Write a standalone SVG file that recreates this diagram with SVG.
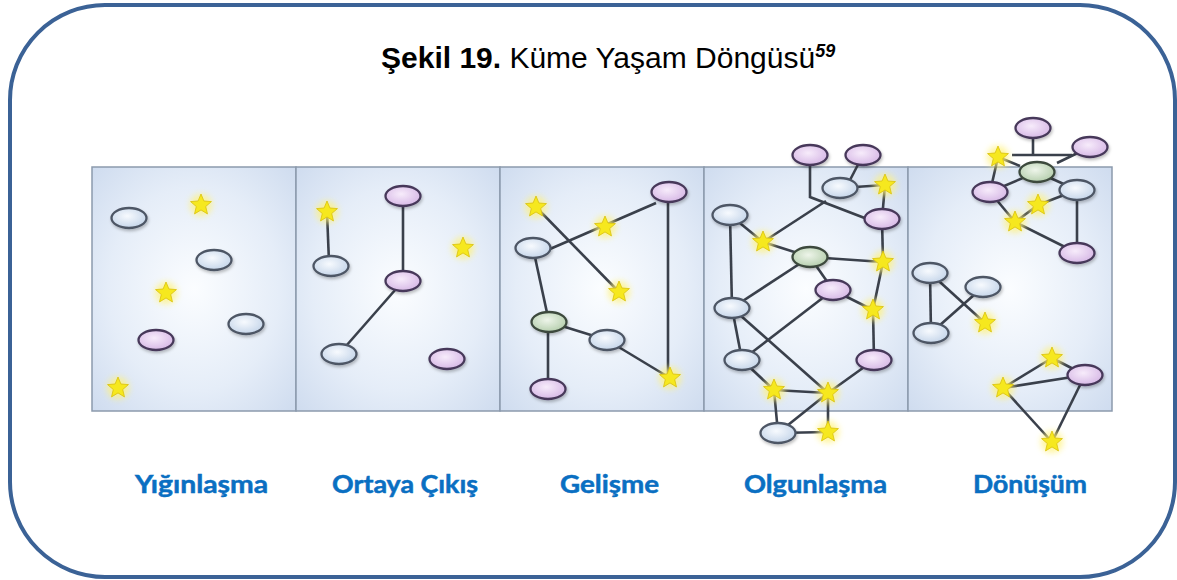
<svg xmlns="http://www.w3.org/2000/svg" xmlns:xlink="http://www.w3.org/1999/xlink" width="1177" height="580" viewBox="0 0 1177 580">
<defs>
<radialGradient id="gPanel" cx="50%" cy="50%" r="70%">
<stop offset="0" stop-color="#fbfdff"/>
<stop offset="0.6" stop-color="#e5edf8"/>
<stop offset="1" stop-color="#cfdcef"/>
</radialGradient>
<radialGradient id="gBlue" cx="45%" cy="40%" r="60%">
<stop offset="0" stop-color="#f7fafe"/>
<stop offset="1" stop-color="#c6d6ea"/>
</radialGradient>
<radialGradient id="gPurple" cx="45%" cy="40%" r="60%">
<stop offset="0" stop-color="#f7ecfb"/>
<stop offset="1" stop-color="#d7b9e6"/>
</radialGradient>
<radialGradient id="gGreen" cx="45%" cy="40%" r="60%">
<stop offset="0" stop-color="#eef5ea"/>
<stop offset="1" stop-color="#b6cfae"/>
</radialGradient>
<filter id="glow" x="-1" y="-1" width="3" height="3">
<feGaussianBlur stdDeviation="3"/>
</filter>
<filter id="shadow" x="-0.3" y="-0.3" width="1.6" height="1.8">
<feDropShadow dx="1" dy="2" stdDeviation="1.5" flood-color="#000" flood-opacity="0.25"/>
</filter>
<g id="star">
<circle r="11" fill="#fff27a" opacity="0.75" filter="url(#glow)"/>
<polygon points="0,-11 2.9,-4 10.46,-3.4 4.7,1.53 6.47,8.9 0,4.95 -6.47,8.9 -4.7,1.53 -10.46,-3.4 -2.9,-4" fill="#f6e81e" stroke="#d9c00c" stroke-width="0.8"/>
</g>
</defs>
<style>
.frame{fill:#fff;stroke:#3b6296;stroke-width:4}
.panel{fill:url(#gPanel);stroke:#8c9aad;stroke-width:1.5}
.b{fill:url(#gBlue);stroke:#4d5665;stroke-width:2.3;filter:url(#shadow)}
.p{fill:url(#gPurple);stroke:#47395a;stroke-width:2.3;filter:url(#shadow)}
.g{fill:url(#gGreen);stroke:#3c4a3d;stroke-width:2.3;filter:url(#shadow)}
.c line,.c polyline{stroke:#3a404b;stroke-width:2.6;fill:none}
.title{font-family:"Liberation Sans",Arial,sans-serif;font-size:30px;fill:#000}
.lbl{font-family:Lato,"Open Sans",sans-serif;font-weight:bold;font-size:24px;fill:#0a6fc2;stroke:#0a6fc2;stroke-width:0.5}
</style>
<rect class="frame" x="10" y="5" width="1165" height="572" rx="95" ry="95"/>
<text class="title" x="381" y="68"><tspan font-weight="bold">Şekil 19.</tspan> Küme Yaşam Döngüsü<tspan font-weight="bold" font-style="italic" font-size="18" dy="-11">59</tspan></text>
<g id="panels">
<rect class="panel" x="92" y="167" width="204" height="244"/>
<rect class="panel" x="296" y="167" width="204" height="244"/>
<rect class="panel" x="500" y="167" width="204" height="244"/>
<rect class="panel" x="704" y="167" width="204" height="244"/>
<rect class="panel" x="908" y="167" width="204" height="244"/>
</g>
<g id="connectors" class="c">
<line x1="327" y1="212" x2="329" y2="262"/>
<line x1="403" y1="196" x2="403" y2="281"/>
<line x1="403" y1="281" x2="339" y2="354"/>
<line x1="656" y1="203" x2="550" y2="249"/>
<line x1="536" y1="207" x2="619" y2="292"/>
<line x1="533" y1="248" x2="549" y2="322"/>
<line x1="549" y1="322" x2="607" y2="340"/>
<line x1="607" y1="340" x2="670" y2="378"/>
<line x1="668" y1="192" x2="668" y2="378"/>
<line x1="548" y1="322" x2="548" y2="389"/>
<polyline points="810,160 810,197 875,222"/>
<line x1="863" y1="155" x2="850" y2="180"/>
<line x1="840" y1="188" x2="885" y2="185"/>
<line x1="885" y1="185" x2="882" y2="219"/>
<line x1="763" y1="242" x2="826" y2="201"/>
<line x1="730" y1="215" x2="763" y2="242"/>
<line x1="763" y1="242" x2="810" y2="257"/>
<line x1="810" y1="257" x2="883" y2="262"/>
<line x1="882" y1="219" x2="883" y2="262"/>
<line x1="810" y1="257" x2="833" y2="290"/>
<line x1="883" y1="262" x2="873" y2="310"/>
<line x1="833" y1="290" x2="873" y2="310"/>
<line x1="873" y1="310" x2="874" y2="360"/>
<line x1="810" y1="257" x2="732" y2="308"/>
<line x1="730" y1="215" x2="732" y2="308"/>
<line x1="732" y1="308" x2="828" y2="393"/>
<line x1="732" y1="308" x2="742" y2="360"/>
<line x1="833" y1="290" x2="742" y2="360"/>
<line x1="742" y1="360" x2="774" y2="390"/>
<line x1="774" y1="390" x2="828" y2="393"/>
<line x1="874" y1="360" x2="828" y2="393"/>
<line x1="774" y1="390" x2="778" y2="433"/>
<line x1="828" y1="393" x2="778" y2="433"/>
<line x1="828" y1="393" x2="828" y2="432"/>
<line x1="778" y1="433" x2="828" y2="432"/>
<line x1="1033" y1="128" x2="1033" y2="155"/>
<line x1="1012" y1="155" x2="1072" y2="155"/>
<line x1="1090" y1="147" x2="1057" y2="163"/>
<line x1="998" y1="157" x2="1020" y2="166"/>
<line x1="998" y1="157" x2="990" y2="192"/>
<line x1="990" y1="192" x2="1037" y2="172"/>
<line x1="1037" y1="172" x2="1077" y2="190"/>
<line x1="1077" y1="190" x2="1038" y2="205"/>
<line x1="1038" y1="205" x2="1015" y2="222"/>
<line x1="990" y1="192" x2="1015" y2="222"/>
<line x1="1015" y1="222" x2="1077" y2="253"/>
<line x1="1077" y1="190" x2="1077" y2="253"/>
<line x1="930" y1="273" x2="931" y2="333"/>
<line x1="930" y1="273" x2="985" y2="323"/>
<line x1="983" y1="287" x2="931" y2="333"/>
<line x1="1052" y1="358" x2="1085" y2="375"/>
<line x1="1052" y1="358" x2="1003" y2="388"/>
<line x1="1003" y1="388" x2="1085" y2="375"/>
<line x1="1003" y1="388" x2="1052" y2="442"/>
<line x1="1085" y1="375" x2="1052" y2="442"/>
</g>
<g id="p1">
<g id="p1-n1"><ellipse class="b" cx="129" cy="218" rx="17.5" ry="10"/></g>
<g id="p1-n2"><use href="#star" xlink:href="#star" x="201" y="205"/></g>
<g id="p1-n3"><ellipse class="b" cx="214" cy="260" rx="17.5" ry="10"/></g>
<g id="p1-n4"><use href="#star" xlink:href="#star" x="166" y="293"/></g>
<g id="p1-n5"><ellipse class="b" cx="246" cy="324" rx="17.5" ry="10"/></g>
<g id="p1-n6"><ellipse class="p" cx="156" cy="340" rx="17.5" ry="10"/></g>
<g id="p1-n7"><use href="#star" xlink:href="#star" x="118" y="388"/></g>
</g>
<g id="p2">
<g id="p2-n1"><use href="#star" xlink:href="#star" x="327" y="212"/></g>
<g id="p2-n2"><ellipse class="b" cx="331" cy="266" rx="17.5" ry="10"/></g>
<g id="p2-n3"><ellipse class="p" cx="403" cy="196" rx="17.5" ry="10"/></g>
<g id="p2-n4"><ellipse class="p" cx="403" cy="281" rx="17.5" ry="10"/></g>
<g id="p2-n5"><use href="#star" xlink:href="#star" x="463" y="248"/></g>
<g id="p2-n6"><ellipse class="b" cx="339" cy="354" rx="17.5" ry="10"/></g>
<g id="p2-n7"><ellipse class="p" cx="447" cy="359" rx="17.5" ry="10"/></g>
</g>
<g id="p3">
<g id="p3-n1"><ellipse class="p" cx="669" cy="192" rx="17.5" ry="10"/></g>
<g id="p3-n2"><use href="#star" xlink:href="#star" x="536" y="207"/></g>
<g id="p3-n3"><use href="#star" xlink:href="#star" x="605" y="227"/></g>
<g id="p3-n4"><ellipse class="b" cx="533" cy="248" rx="17.5" ry="10"/></g>
<g id="p3-n5"><use href="#star" xlink:href="#star" x="619" y="292"/></g>
<g id="p3-n6"><ellipse class="g" cx="549" cy="322" rx="17.5" ry="10"/></g>
<g id="p3-n7"><ellipse class="b" cx="607" cy="340" rx="17.5" ry="10"/></g>
<g id="p3-n8"><use href="#star" xlink:href="#star" x="670" y="378"/></g>
<g id="p3-n9"><ellipse class="p" cx="548" cy="389" rx="17.5" ry="10"/></g>
</g>
<g id="p4">
<g id="p4-n1"><ellipse class="p" cx="810" cy="155" rx="17.5" ry="10"/></g>
<g id="p4-n2"><ellipse class="p" cx="863" cy="155" rx="17.5" ry="10"/></g>
<g id="p4-n3"><ellipse class="b" cx="840" cy="188" rx="17.5" ry="10"/></g>
<g id="p4-n4"><use href="#star" xlink:href="#star" x="885" y="185"/></g>
<g id="p4-n5"><ellipse class="b" cx="730" cy="215" rx="17.5" ry="10"/></g>
<g id="p4-n6"><ellipse class="p" cx="882" cy="219" rx="17.5" ry="10"/></g>
<g id="p4-n7"><use href="#star" xlink:href="#star" x="763" y="242"/></g>
<g id="p4-n8"><ellipse class="g" cx="810" cy="257" rx="17.5" ry="10"/></g>
<g id="p4-n9"><use href="#star" xlink:href="#star" x="883" y="262"/></g>
<g id="p4-n10"><ellipse class="p" cx="833" cy="290" rx="17.5" ry="10"/></g>
<g id="p4-n11"><use href="#star" xlink:href="#star" x="873" y="310"/></g>
<g id="p4-n12"><ellipse class="b" cx="732" cy="308" rx="17.5" ry="10"/></g>
<g id="p4-n13"><ellipse class="b" cx="742" cy="360" rx="17.5" ry="10"/></g>
<g id="p4-n14"><ellipse class="p" cx="874" cy="360" rx="17.5" ry="10"/></g>
<g id="p4-n15"><use href="#star" xlink:href="#star" x="774" y="390"/></g>
<g id="p4-n16"><use href="#star" xlink:href="#star" x="828" y="393"/></g>
<g id="p4-n17"><ellipse class="b" cx="778" cy="433" rx="17.5" ry="10"/></g>
<g id="p4-n18"><use href="#star" xlink:href="#star" x="828" y="432"/></g>
</g>
<g id="p5">
<g id="p5-n1"><ellipse class="p" cx="1033" cy="128" rx="17.5" ry="10"/></g>
<g id="p5-n2"><ellipse class="p" cx="1090" cy="147" rx="17.5" ry="10"/></g>
<g id="p5-n3"><use href="#star" xlink:href="#star" x="998" y="157"/></g>
<g id="p5-n4"><ellipse class="g" cx="1037" cy="172" rx="17.5" ry="10"/></g>
<g id="p5-n5"><ellipse class="p" cx="990" cy="192" rx="17.5" ry="10"/></g>
<g id="p5-n6"><ellipse class="b" cx="1077" cy="190" rx="17.5" ry="10"/></g>
<g id="p5-n7"><use href="#star" xlink:href="#star" x="1038" y="205"/></g>
<g id="p5-n8"><use href="#star" xlink:href="#star" x="1015" y="222"/></g>
<g id="p5-n9"><ellipse class="p" cx="1077" cy="253" rx="17.5" ry="10"/></g>
<g id="p5-n10"><ellipse class="b" cx="930" cy="273" rx="17.5" ry="10"/></g>
<g id="p5-n11"><ellipse class="b" cx="983" cy="287" rx="17.5" ry="10"/></g>
<g id="p5-n12"><use href="#star" xlink:href="#star" x="985" y="323"/></g>
<g id="p5-n13"><ellipse class="b" cx="931" cy="333" rx="17.5" ry="10"/></g>
<g id="p5-n14"><use href="#star" xlink:href="#star" x="1052" y="358"/></g>
<g id="p5-n15"><ellipse class="p" cx="1085" cy="375" rx="17.5" ry="10"/></g>
<g id="p5-n16"><use href="#star" xlink:href="#star" x="1003" y="388"/></g>
<g id="p5-n17"><use href="#star" xlink:href="#star" x="1052" y="442"/></g>
</g>
<g id="labels">
<text class="lbl" x="135" y="493" textLength="133" lengthAdjust="spacingAndGlyphs">Yığınlaşma</text>
<text class="lbl" x="332" y="493" textLength="146" lengthAdjust="spacingAndGlyphs">Ortaya Çıkış</text>
<text class="lbl" x="560" y="493" textLength="99" lengthAdjust="spacingAndGlyphs">Gelişme</text>
<text class="lbl" x="744" y="493" textLength="143" lengthAdjust="spacingAndGlyphs">Olgunlaşma</text>
<text class="lbl" x="973" y="493" textLength="114" lengthAdjust="spacingAndGlyphs">Dönüşüm</text>
</g>
</svg>
